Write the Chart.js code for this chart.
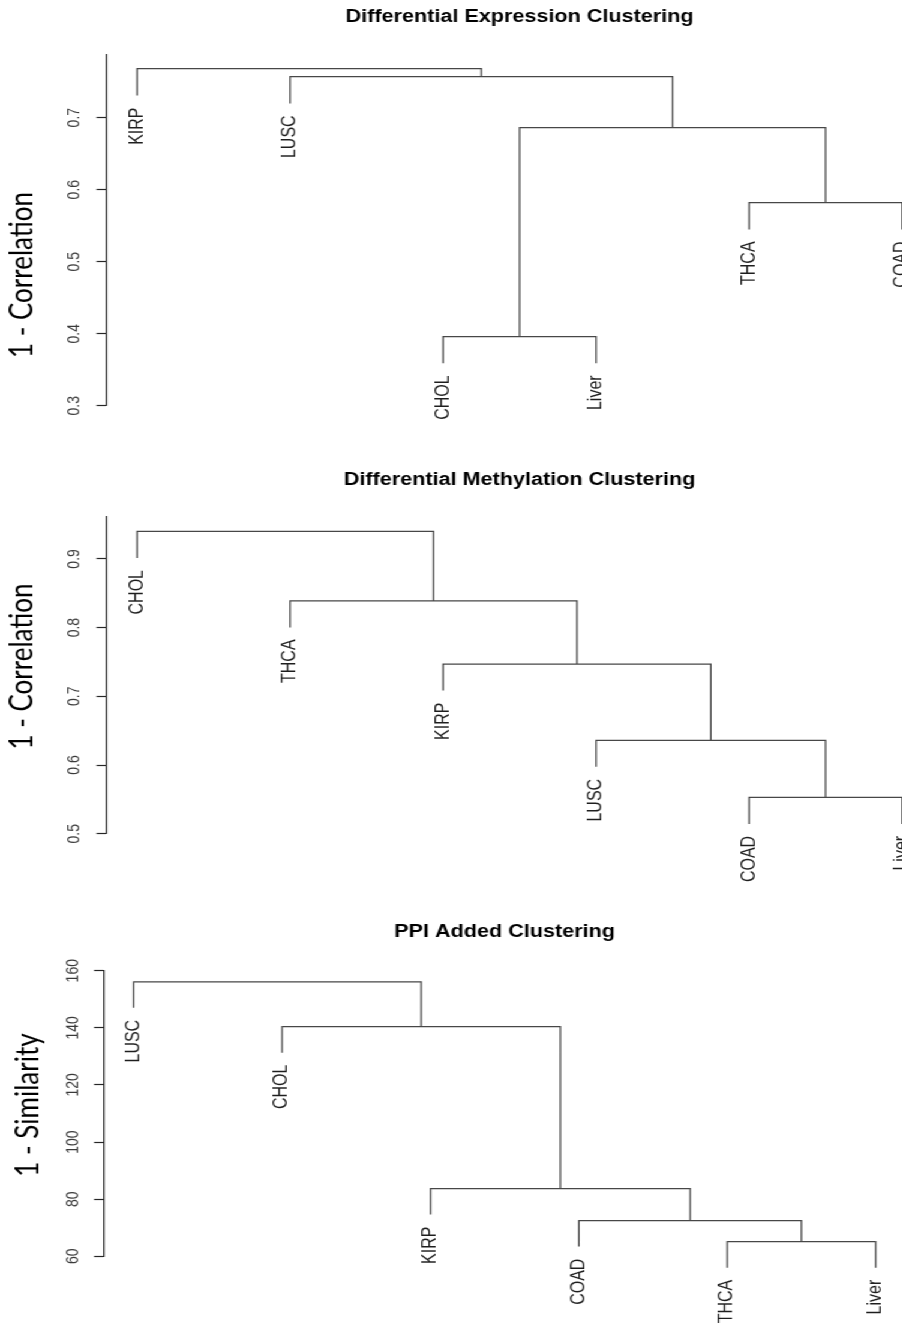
<!DOCTYPE html>
<html>
<head>
<meta charset="utf-8">
<title>Clustering dendrograms</title>
<script src="https://cdn.jsdelivr.net/npm/chart.js@4.4.1/dist/chart.umd.min.js"></script>
<style>
  html, body { margin: 0; padding: 0; background: #fff; overflow: hidden; }
  body { width: 902px; height: 1324px; }
  /* the reference picture is stretched sideways, so the whole drawing is too */
  #stretch { width: 800px; transform: scaleX(1.2); transform-origin: 0 0; }
  .panel { position: relative; width: 800px; }
</style>
</head>
<body>
<div id="stretch">
  <div class="panel" style="height:450px"><canvas id="expr"></canvas></div>
  <div class="panel" style="height:450px"><canvas id="meth"></canvas></div>
  <div class="panel" style="height:424px"><canvas id="ppi"></canvas></div>
</div>
<script>
// leaves in plotted order, left to right
const exprLeaves = ['KIRP', 'LUSC', 'CHOL', 'Liver', 'THCA', 'COAD'];
const methLeaves = ['CHOL', 'THCA', 'KIRP', 'LUSC', 'COAD', 'Liver'];
const ppiLeaves = ['LUSC', 'CHOL', 'KIRP', 'COAD', 'THCA', 'Liver'];

// merges, hclust style: -n = leaf n (1-based, plotted order), +k = merge k
const exprMerge = [[-3, -4], [-5, -6], [1, 2], [-2, 3], [-1, 4]];
const methMerge = [[-5, -6], [-4, 1], [-3, 2], [-2, 3], [-1, 4]];
const ppiMerge = [[-5, -6], [-4, 1], [-3, 2], [-2, 3], [-1, 4]];

// merge heights
const exprHeights = [0.396, 0.582, 0.686, 0.757, 0.768];
const methHeights = [0.553, 0.636, 0.747, 0.839, 0.940];
const ppiHeights = [65.1, 72.5, 83.7, 140.4, 156.1];

// y tick labels
const exprTicks = [0.3, 0.4, 0.5, 0.6, 0.7];
const methTicks = [0.5, 0.6, 0.7, 0.8, 0.9];
const ppiTicks = [60, 80, 100, 120, 140, 160];

const exprTitle = 'Differential Expression Clustering';
const methTitle = 'Differential Methylation Clustering';
const ppiTitle = 'PPI Added Clustering';
const corrLabel = '1 - Correlation';
const simLabel = '1 - Similarity';

const SX = 1.2;
const LINE = '#474747';
const AXIS = '#262626';

// walk the merges and turn them into U shaped segments
function dendro(merge, heights) {
  const hang = 0.1 * (Math.max(...heights) - Math.min(...heights));
  const mid = [];
  const ends = [];
  const pts = [];
  merge.forEach((pair, k) => {
    const h = heights[k];
    const kids = pair.map(ref => {
      if (ref < 0) {
        ends[-ref - 1] = h - hang;
        return { x: -ref, y: h - hang };
      }
      return { x: mid[ref - 1], y: heights[ref - 1] };
    });
    mid[k] = (kids[0].x + kids[1].x) / 2;
    pts.push({ x: kids[0].x, y: kids[0].y }, { x: kids[0].x, y: h },
             { x: kids[1].x, y: h }, { x: kids[1].x, y: kids[1].y },
             { x: kids[1].x, y: null });
  });
  return { pts, ends };
}

const labelPlugin = {
  id: 'leafLabels',
  afterDatasetsDraw(chart, args, opts) {
    const { ctx } = chart;
    const xs = chart.scales.x, ys = chart.scales.y;
    ctx.save();
    ctx.font = '16px "Liberation Sans", Arial, sans-serif';
    ctx.fillStyle = '#1e1e1e';
    ctx.textAlign = 'right';
    ctx.textBaseline = 'middle';
    opts.names.forEach((name, i) => {
      ctx.save();
      ctx.translate(xs.getPixelForValue(i + 1), ys.getPixelForValue(opts.ends[i]) + 12);
      ctx.rotate(-Math.PI / 2);
      ctx.fillText(name, 0, 0);
      ctx.restore();
    });
    // axis title, placed where the reference has it
    ctx.font = opts.ySize + 'px Lato, "Open Sans", sans-serif';
    ctx.fillStyle = '#000';
    ctx.textAlign = 'center';
    ctx.translate(opts.yTitleX / SX, opts.yTitleY);
    ctx.rotate(-Math.PI / 2);
    ctx.fillText(opts.yTitle, 0, 0);
    ctx.restore();
  }
};

function makeChart(id, cfg) {
  const tree = dendro(cfg.merge, cfg.heights);
  const axisX = cfg.axisX / SX;
  const right = axisX + 5.4 * cfg.step / SX;
  return new Chart(document.getElementById(id), {
    type: 'scatter',
    data: {
      datasets: [{
        data: tree.pts,
        showLine: true,
        spanGaps: false,
        borderColor: LINE,
        borderWidth: 1.25,
        pointRadius: 0,
        clip: false
      }]
    },
    options: {
      responsive: true,
      maintainAspectRatio: false,
      animation: false,
      events: [],
      layout: { padding: { left: 0, top: 0, right: 800 - right, bottom: cfg.height - cfg.bottom } },
      plugins: {
        legend: { display: false },
        tooltip: { enabled: false },
        title: {
          display: true,
          text: cfg.title,
          fullSize: false,
          color: '#000',
          font: { family: '"Liberation Sans", Arial, sans-serif', size: 18, weight: 'bold' },
          padding: { top: cfg.titleTop, bottom: cfg.top - cfg.titleTop - 21.6 }
        },
        leafLabels: {
          names: cfg.leaves, ends: tree.ends,
          yTitle: cfg.yTitle, yTitleX: cfg.yTitleX, yTitleY: cfg.yTitleY, ySize: 26
        }
      },
      scales: {
        x: { type: 'linear', min: 0.8, max: 6.2, display: false },
        y: {
          type: 'linear',
          min: cfg.ticks[0],
          max: cfg.yMax,
          afterBuildTicks: s => { s.ticks = cfg.ticks.map(v => ({ value: v })); },
          afterFit: s => { s.width = axisX; },
          grid: { drawOnChartArea: false, tickLength: 8.3, tickColor: AXIS, tickWidth: 1.2 },
          border: { color: AXIS, width: 1.2 },
          ticks: {
            minRotation: 90, maxRotation: 90, crossAlign: 'center',
            padding: cfg.tickPad, color: '#3a3a3a',
            font: { family: '"Liberation Sans", Arial, sans-serif', size: 14 },
            callback: v => String(v)
          }
        }
      }
    },
    plugins: [labelPlugin]
  });
}

makeChart('expr', {
  leaves: exprLeaves, merge: exprMerge, heights: exprHeights, ticks: exprTicks,
  title: exprTitle, yTitle: corrLabel, yMax: 0.787,
  axisX: 106.5, step: 153, height: 450, top: 55, bottom: 405.7, titleTop: 6.7,
  tickPad: 8.2, yTitleX: 22, yTitleY: 275
});
makeChart('meth', {
  leaves: methLeaves, merge: methMerge, heights: methHeights, ticks: methTicks,
  title: methTitle, yTitle: corrLabel, yMax: 0.961,
  axisX: 106.5, step: 153, height: 450, top: 67, bottom: 383.7, titleTop: 19.7,
  tickPad: 8.2, yTitleX: 22, yTitleY: 216.5
});
makeChart('ppi', {
  leaves: ppiLeaves, merge: ppiMerge, heights: ppiHeights, ticks: ppiTicks,
  title: ppiTitle, yTitle: simLabel, yMax: 160,
  axisX: 104, step: 148.4, height: 424, top: 70.7, bottom: 356.3, titleTop: 21.7,
  tickPad: 5.5, yTitleX: 28, yTitleY: 205
});
</script>
</body>
</html>
